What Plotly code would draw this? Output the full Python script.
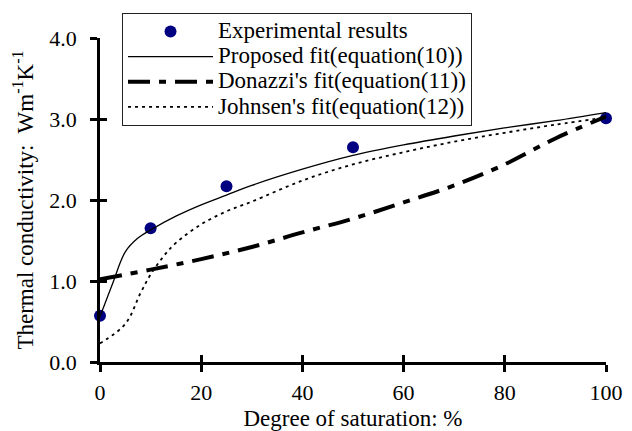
import plotly.graph_objects as go

exp_x = [0, 10, 25, 50, 100]
exp_y = [0.57, 1.65, 2.17, 2.65, 3.01]

prop_x = [0, 2.5, 5, 7.5, 10, 15, 20, 25, 30, 40, 50, 60, 70, 80, 90, 100]
prop_y = [0.56, 0.97, 1.36, 1.53, 1.63, 1.80, 1.94, 2.06, 2.18, 2.38, 2.55, 2.68, 2.79, 2.89, 2.98, 3.08]

don_x = [0, 10, 20, 30, 40, 50, 60, 70, 80, 90, 100]
don_y = [1.02, 1.14, 1.27, 1.42, 1.60, 1.77, 1.97, 2.18, 2.44, 2.76, 3.03]

joh_x = [0, 5, 8, 10, 12.5, 15, 20, 25, 30, 40, 50, 60, 70, 80, 90, 100]
joh_y = [0.23, 0.47, 0.85, 1.08, 1.30, 1.47, 1.70, 1.86, 1.98, 2.24, 2.44, 2.59, 2.72, 2.83, 2.93, 3.02]

names = ["Experimental results", "Proposed fit(equation(10))",
         "Donazzi's fit(equation(11))", "Johnsen's fit(equation(12))"]

x_ticks = [0, 20, 40, 60, 80, 100]
y_ticks = [0.0, 1.0, 2.0, 3.0, 4.0]

FONT = "Liberation Serif"


def big(t):
    return "<span style='font-size:23px'>" + t + "</span>"


fig = go.Figure()
fig.add_trace(go.Scatter(x=exp_x, y=exp_y, mode="markers", name=big(names[0]),
                         marker=dict(color="#000080", size=12), cliponaxis=False))
fig.add_trace(go.Scatter(x=prop_x, y=prop_y, mode="lines", name=big(names[1]),
                         line=dict(color="black", width=1.3, shape="spline")))
fig.add_trace(go.Scatter(x=don_x, y=don_y, mode="lines", name=big(names[2]),
                         line=dict(color="black", width=4, shape="spline", dash="22px,9px,7px,9px")))
fig.add_trace(go.Scatter(x=joh_x, y=joh_y, mode="lines", name=big(names[3]),
                         line=dict(color="black", width=1.8, shape="spline", dash="3px,4px")))
fig.add_trace(go.Scatter(x=[None], y=[None], xaxis="x2", yaxis="y2", showlegend=False, hoverinfo="skip"))

axis_common = dict(showgrid=False, zeroline=False, showline=True, linecolor="black", linewidth=2.5,
                   ticks="outside", ticklen=7, tickwidth=2.5, tickcolor="black", automargin=False)

fig.update_layout(
    width=632, height=431,
    margin=dict(l=100, r=26, t=38, b=69, autoexpand=False),
    paper_bgcolor="white", plot_bgcolor="white",
    font=dict(family=FONT, color="black"),
    xaxis=dict(range=[0, 100], tickvals=x_ticks, ticktext=[str(v) for v in x_ticks],
               ticklabelstandoff=2, tickfont=dict(family=FONT, size=22, color="black"),
               title=dict(text="Degree of saturation: %", font=dict(family=FONT, size=23), standoff=6),
               **axis_common),
    yaxis=dict(range=[0, 4], tickvals=y_ticks, ticktext=[f"{v:.1f}" for v in y_ticks],
               ticklabelstandoff=9, tickfont=dict(family=FONT, size=22, color="black"),
               title=dict(text="Thermal conductivity:  Wm<sup>-1</sup>K<sup>-1</sup>",
                          font=dict(family=FONT, size=23), standoff=10),
               **axis_common),
    xaxis2=dict(range=[0, 100], overlaying="x", tickvals=x_ticks, showticklabels=False,
                ticks="inside", ticklen=7, tickwidth=2.5, tickcolor="black", showgrid=False,
                zeroline=False, showline=False, anchor="y"),
    yaxis2=dict(range=[0, 4], overlaying="y", tickvals=y_ticks, showticklabels=False,
                ticks="inside", ticklen=7, tickwidth=2.5, tickcolor="black", showgrid=False,
                zeroline=False, showline=False, anchor="x"),
    legend=dict(x=0.0435, y=1.077, xanchor="left", yanchor="top",
                bgcolor="white", bordercolor="#222222", borderwidth=1,
                font=dict(family=FONT, size=17, color="black"),
                tracegroupgap=0, itemwidth=85),
    showlegend=True,
)

post = (
    "document.body.style.margin='0';"
    "var st=document.createElement('style');"
    "st.textContent=\"svg text, svg tspan {font-family: 'Liberation Serif', 'Times New Roman', serif !important;}\";"
    "document.head.appendChild(st);"
    "document.querySelectorAll('svg text').forEach(function(t){"
    "t.setAttribute('font-family', 'Liberation Serif');});"
)

fig.write_html("out.html", config={"displayModeBar": False}, post_script=post)
